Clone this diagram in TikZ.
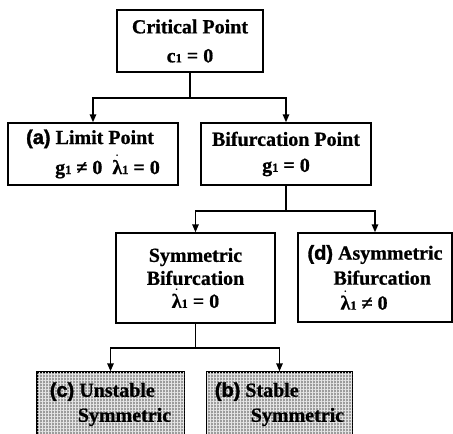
\documentclass[tikz,border=0pt]{standalone}
\usepackage{fontspec}
\usepackage{amsmath}
\setmainfont{Liberation Serif}[BoldFeatures={FakeBold=0.8}]
\newfontfamily\tagfont{Liberation Sans}[BoldFeatures={FakeBold=1.6}]
\usetikzlibrary{arrows.meta,patterns.meta}

% small index digit sitting on the baseline
\newcommand\idx{{\fontsize{12.5}{12.5}\selectfont 1}}
% lambda with a dot above
\newcommand\lamdot{\ensuremath{\dot{\text{λ}}}}
% case tag such as (a)
\newcommand\casetag[1]{{\tagfont\bfseries(#1)}}

\tikzset{
  box/.style={draw, rectangle, line width=1.5pt, inner sep=0pt, align=center,
    font=\bfseries\fontsize{20}{29}\selectfont},
  shaded/.style={box, fill=gray!78,
    postaction={pattern={Lines[distance=3pt,line width=0.45pt]}, pattern color=gray!20},
    postaction={pattern={Lines[distance=3pt,angle=90,line width=0.45pt]}, pattern color=gray!20}},
  link/.style={line width=1.5pt},
  arr/.style={link, -{Triangle[length=8pt,width=6.5pt]}}
}

\begin{document}
\begin{tikzpicture}[x=1pt,y=-1pt]
  \useasboundingbox (0,0) rectangle (453,434);

  % boxes
  \node[box, minimum width=146pt, minimum height=62pt] (crit) at (190,41)
    {Critical Point\\c\idx{} = 0};
  \node[box, minimum width=170pt, minimum height=62pt, align=left,
        font=\bfseries\fontsize{20}{30}\selectfont] (limit) at (93,154)
    {\casetag{a} Limit Point\\\hspace*{29pt}g\idx{} ≠ 0\ \ \lamdot\idx{} = 0};
  \node[box, minimum width=170pt, minimum height=62pt,
        font=\bfseries\fontsize{20}{26}\selectfont] (bif) at (286,154)
    {Bifurcation Point\\g\idx{} = 0};
  \node[box, minimum width=159pt, minimum height=90pt,
        font=\bfseries\fontsize{20}{23}\selectfont] (sym) at (195.5,278)
    {Symmetric\\Bifurcation\\\lamdot\idx{} = 0};
  \node[box, minimum width=154pt, minimum height=89pt, align=left,
        font=\bfseries\fontsize{20}{25}\selectfont] (asym) at (375,277.5)
    {\casetag{d} Asymmetric\\\hspace*{26pt}Bifurcation\\\hspace*{33pt}\lamdot\idx{} ≠ 0};
  \node[shaded, minimum width=147pt, minimum height=72pt, align=left, text depth=12pt,
        font=\bfseries\fontsize{20}{25}\selectfont] (unst) at (110.5,408)
    {\casetag{c} Unstable\\\hspace*{28pt}Symmetric};
  \node[shaded, minimum width=145pt, minimum height=72pt, align=left, text depth=12pt,
        font=\bfseries\fontsize{20}{25}\selectfont] (stab) at (279.5,408)
    {\casetag{b} Stable\\\hspace*{36pt}Symmetric};

  % branch points
  \path (crit.south) ++(0,25) coordinate (j1);
  \path (bif.south) ++(0,25) coordinate (j2);
  \path (sym.south) ++(0,24) coordinate (j3);

  % connectors
  \draw[link] (crit.south) -- (j1);
  \draw[arr] (j1) -| (limit.north);
  \draw[arr] (j1) -| (bif.north);

  \draw[link] (bif.south) -- (j2);
  \draw[arr] (j2) -| (sym.north);
  \draw[arr] (j2) -| (asym.north);

  \draw[link] (sym.south) -- (j3);
  \draw[arr] (j3) -| (unst.north);
  \draw[arr] (j3) -| (stab.north);
\end{tikzpicture}
\end{document}
